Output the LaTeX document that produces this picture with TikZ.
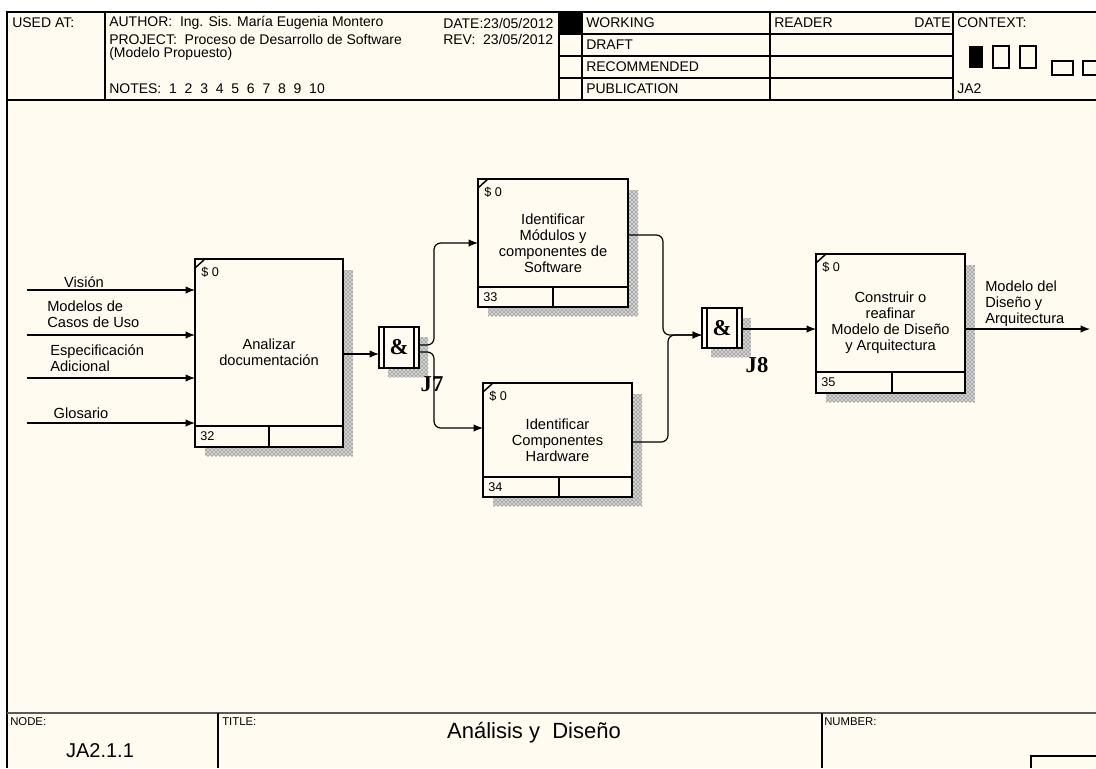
\documentclass[tikz,border=0pt]{standalone}
\usepackage{fontspec}
\setmainfont{Liberation Sans}
\newfontfamily\serifbf{Liberation Serif}
\usetikzlibrary{arrows.meta,patterns,fit}
\definecolor{cream}{RGB}{255,251,240}
\newcommand{\fsh}{\fontsize{10.5}{11.8}\selectfont}
\newcommand{\fsb}{\fontsize{11}{12}\selectfont}
\newcommand{\fss}{\fontsize{9.5}{10}\selectfont}
\newcommand{\fsf}{\fontsize{8.5}{10}\selectfont}
\tikzset{
 frameline/.style={line width=1.1pt},
 actbox/.style={draw, line width=1.8pt, fill=cream, inner sep=0pt, outer sep=0pt},
 shadow/.style={fill=black!18, postaction={pattern=crosshatch dots, pattern color=black!80}},
 conn/.style={line width=0.9pt, -{Latex[length=7pt,width=5.5pt]}, rounded corners=5pt},
 lbl/.style={font=\fsb, align=center, inner sep=0pt},
 lbll/.style={font=\fsb, align=left, inner sep=0pt, anchor=west},
 hdr/.style={font=\fsh, inner sep=0pt, anchor=west},
 tinyt/.style={font=\fss, inner sep=0pt, anchor=west},
 foot/.style={font=\fsf, inner sep=0pt, anchor=west},
 jlabel/.style={font=\serifbf\bfseries\fontsize{17}{17}\selectfont, inner sep=0pt},
 amp/.style={font=\serifbf\bfseries\fontsize{17}{17}\selectfont, inner sep=0pt},
}
% name x1 y1 x2 y2 ydiv xdiv number text
\newcommand{\actbox}[9]{%
 \path[shadow] (#4,#3+11) rectangle (#4+10,#5+9);
 \path[shadow] (#2+10,#5) rectangle (#4,#5+9);
 \node[actbox, fit={(#2,#3) (#4,#5)}] (#1) {};
 \draw[line width=1.8pt] (#2,#6) -- (#4,#6) (#7,#6) -- (#7,#5);
 \draw[line width=1.1pt] (#2,#3+9) -- (#2+10,#3);
 \node[tinyt] (#1-s) at (#2+6,#3+13) {\$ 0};
 \node[tinyt] (#1-n) at (#2+5,{(#6+#5)/2}) {#8};
 \node[lbl] (#1-t) at ({(#2+#4)/2},{(#3+#6)/2+10}) {#9};
}
% name x1 y1 x2 y2 labx laby label
\newcommand{\junc}[8]{%
 \path[shadow] (#4,#3+10) rectangle (#4+9,#5+9);
 \path[shadow] (#2+9,#5) rectangle (#4,#5+9);
 \node[actbox, fit={(#2,#3) (#4,#5)}] (#1) {};
 \draw[line width=1.4pt] (#2+5,#3) -- (#2+5,#5) (#4-5,#3) -- (#4-5,#5);
 \node[amp] (#1-a) at (#1.center) {\&};
 \node[jlabel] (#1-l) at (#6,#7) {#8};
}
\begin{document}
\begin{tikzpicture}[x=0.75pt,y=-0.75pt]
\useasboundingbox (0,0) rectangle (1096,768);
\fill[white] (0,0) rectangle (1096,768);
\fill[cream] (7,12) rectangle (1096,768);
% header frame
\draw[frameline] (7,768) -- (7,12) -- (1096,12);
\draw[frameline] (7,100) -- (1096,100);
\draw[frameline] (105,12) -- (105,100);
\draw[frameline] (559,12) -- (559,100);
\draw[frameline] (582,12) -- (582,100);
\draw[frameline] (770,12) -- (770,100);
\draw[frameline] (953,12) -- (953,100);
\draw[frameline] (559,34) -- (953,34) (559,56) -- (953,56) (559,78) -- (953,78);
\fill (559,12) rectangle (582,34);
\node[hdr] (usedat) at (12,23) {USED AT:};
\node[hdr] (author) at (109,23) {AUTHOR:\ \ Ing. Sis. María Eugenia Montero};
\node[hdr] (project) at (109,39) {PROJECT:\ \ Proceso de Desarrollo de Software};
\node[hdr] (modelo) at (109,54) {(Modelo Propuesto)};
\node[hdr] (notes) at (109,89) {NOTES:\ \ 1\ \ 2\ \ 3\ \ 4\ \ 5\ \ 6\ \ 7\ \ 8\ \ 9\ \ 10};
\node[hdr] (date) at (443,23) {DATE:23/05/2012};
\node[hdr] (rev) at (443,39) {REV:\ \ 23/05/2012};
\node[hdr] (working) at (586,23) {WORKING};
\node[hdr] (draft) at (586,45) {DRAFT};
\node[hdr] (recom) at (586,67) {RECOMMENDED};
\node[hdr] (public) at (586,89) {PUBLICATION};
\node[hdr] (reader) at (774,23) {READER};
\node[hdr, anchor=east] (date2) at (951,23) {DATE};
\node[hdr] (context) at (957,23) {CONTEXT:};
\node[hdr] (ja2) at (957,89) {JA2};
\fill (969,46) rectangle (983,68);
\draw[line width=0.9pt] (993,46) rectangle (1009,68) (1020,46) rectangle (1036,68)
  (1052,61) rectangle (1073,75) (1083,61) rectangle (1102,75);
% footer
\draw[line width=1.5pt, draw=black!65] (7,713) -- (1096,713);
\draw[frameline] (218,713) -- (218,768) (822,713) -- (822,768);
\draw[line width=0.9pt] (1031,768) -- (1031,756) -- (1096,756);
\node[foot] (nodel) at (10,722) {NODE:};
\node[foot] (titlel) at (222,722) {TITLE:};
\node[foot] (numberl) at (824,722) {NUMBER:};
\node[inner sep=0pt, font=\fontsize{15}{15}\selectfont] (nodeid) at (100,751) {JA2.1.1};
\node[inner sep=0pt, font=\fontsize{16.5}{16.5}\selectfont] (title) at (534,733) {Análisis y\ \ Diseño};
% activity boxes
\actbox{b32}{195}{259}{343}{447}{426}{269}{32}{Analizar\\documentación}
\actbox{b33}{478}{179}{628}{307}{287}{553}{33}{Identificar\\Módulos y\\componentes de\\Software}
\actbox{b34}{483}{383}{632}{497}{477}{559}{34}{Identificar\\Componentes\\Hardware}
\actbox{b35}{816}{254}{965}{393}{372}{892}{35}{Construir o\\reafinar\\Modelo de Diseño\\y Arquitectura}
% junctions
\junc{j7}{379}{327}{419}{368}{432}{384}{J7}
\junc{j8}{702}{308}{742}{348}{757}{365}{J8}
% inputs
\coordinate (i1) at (27,290);
\coordinate (i2) at (27,335);
\coordinate (i3) at (27,378);
\coordinate (i4) at (27,423);
\draw[conn] (i1) -- (i1 -| b32.west);
\draw[conn] (i2) -- (i2 -| b32.west);
\draw[conn] (i3) -- (i3 -| b32.west);
\draw[conn] (i4) -- (i4 -| b32.west);
\node[lbl] (vision) at (84,282) {Visión};
\node[lbll] (modelos) at (47,314) {Modelos de\\Casos de Uso};
\node[lbll] (espec) at (50,358) {Especificación\\Adicional};
\node[lbl] (glos) at (81,413) {Glosario};
% y levels
\coordinate (y354) at (0,354);
\coordinate (y345) at (0,345);
\coordinate (y352) at (0,352);
\coordinate (y243) at (0,243);
\coordinate (y428) at (0,428);
\coordinate (y235) at (0,235);
\coordinate (y442) at (0,442);
\coordinate (y335) at (0,335);
\coordinate (y329) at (0,329);
\draw[conn] (b32.east |- y354) -- (j7.west |- y354);
\draw[conn] (j7.east |- y345) -- (434,345) -- (434,243) -- (b33.west |- y243);
\draw[conn] (j7.east |- y352) -- (434,352) -- (434,428) -- (b34.west |- y428);
\draw[conn] (b33.east |- y235) -- (663,235) -- (663,335) -- (j8.west |- y335);
\draw[conn] (b34.east |- y442) -- (668,442) -- (668,335) -- (j8.west |- y335);
\draw[conn] (j8.east |- y329) -- (b35.west |- y329);
\coordinate (out) at (1090,329);
\draw[conn] (b35.east |- y329) -- (out);
\node[lbll] (outl) at (985,304) {Modelo del\\Diseño y\\Arquitectura};
\end{tikzpicture}
\end{document}
